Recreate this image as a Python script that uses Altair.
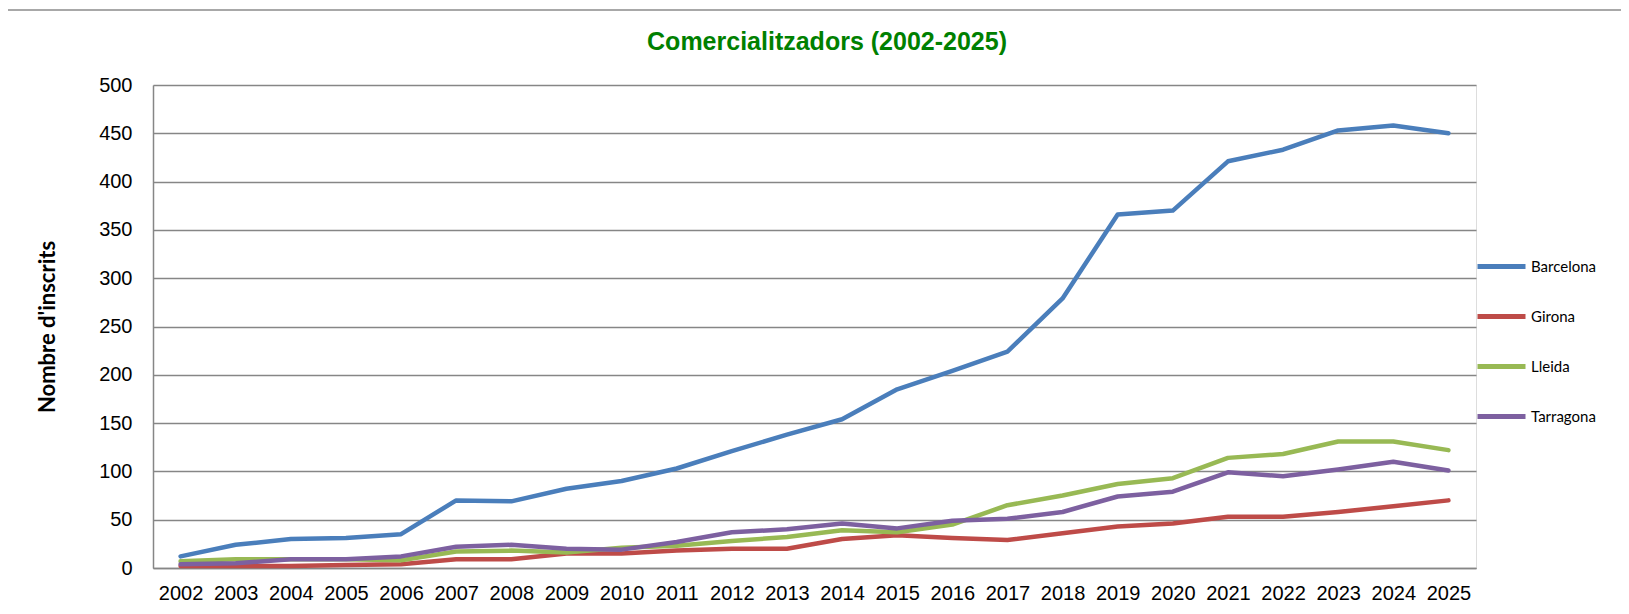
import altair as alt
import pandas as pd

years = [str(y) for y in range(2002, 2026)]
series_names = ["Barcelona", "Girona", "Lleida", "Tarragona"]
barcelona = [12, 24, 30, 31, 35, 70, 69, 82, 90, 103, 121, 138, 154, 185, 204, 224, 279, 366, 370, 421, 433, 453, 458, 450]
girona = [2, 2, 2, 3, 4, 9, 9, 15, 15, 18, 20, 20, 30, 34, 31, 29, 36, 43, 46, 53, 53, 58, 64, 70]
lleida = [7, 9, 9, 9, 8, 17, 18, 16, 21, 23, 28, 32, 39, 37, 45, 65, 75, 87, 93, 114, 118, 131, 131, 122]
tarragona = [4, 5, 9, 9, 12, 22, 24, 20, 19, 27, 37, 40, 46, 41, 49, 51, 58, 74, 79, 99, 95, 102, 110, 101]
colors = ["#4A7EBB", "#BE4B48", "#98B954", "#7D60A0"]
y_ticks = list(range(0, 501, 50))
chart_title = "Comercialitzadors (2002-2025)"

rows = []
for name, vals in zip(series_names, [barcelona, girona, lleida, tarragona]):
    for yr, v in zip(years, vals):
        rows.append({"Any": yr, "Serie": name, "Valor": v})
df = pd.DataFrame(rows)

W, H = 1323, 483

lines = alt.Chart(df).mark_line(strokeWidth=4.5, strokeCap="round", strokeJoin="round").encode(
    x=alt.X("Any:O", sort=years, scale=alt.Scale(type="point", padding=0.5),
            axis=alt.Axis(title=None, labelAngle=0, ticks=False, domainColor="#868686",
                          domainWidth=1.5, labelFont="Liberation Sans", labelFontSize=20,
                          labelColor="#000000", labelPadding=15, grid=False)),
    y=alt.Y("Valor:Q", scale=alt.Scale(domain=[0, 500], nice=False),
            axis=alt.Axis(title="Nombre d'inscrits", values=y_ticks, ticks=False,
                          domainColor="#868686", domainWidth=1.5, gridColor="#868686",
                          gridWidth=1.3, labelFont="Liberation Sans", labelFontSize=20,
                          labelColor="#000000", labelPadding=21, titleFont="Lato",
                          titleFontSize=22, titleFontWeight="bold", titleColor="#000000",
                          titlePadding=39)),
    color=alt.Color("Serie:N", sort=series_names,
                    scale=alt.Scale(domain=series_names, range=colors),
                    legend=alt.Legend(title=None, orient="none", legendX=1322, legendY=155,
                                      symbolType="stroke", symbolSize=2304,
                                      symbolStrokeWidth=5, labelFont="Lato",
                                      labelFontSize=15, labelColor="#000000",
                                      labelOffset=3, rowPadding=13)),
    order=alt.Order("Serie:N"),
)

frame = alt.Chart(alt.Data(values=[{}])).mark_rect(fill=None, stroke="#8c8c8c", strokeWidth=1.5).encode(
    x=alt.value(-147), y=alt.value(-75), x2=alt.value(1700), y2=alt.value(800)
)

title = alt.Chart(alt.Data(values=[{"t": chart_title}])).mark_text(
    font="Liberation Sans", fontSize=25, fontWeight="bold", color="#008000",
    align="center", baseline="middle"
).encode(text="t:N", x=alt.value(674), y=alt.value(-43))

chart = alt.layer(frame, lines, title).properties(
    width=W, height=H,
    autosize=alt.AutoSizeParams(type="none"),
    padding={"left": 145, "top": 77, "right": 145, "bottom": 38},
).configure_view(stroke=None).configure(background="#ffffff")

chart.save("out.html", embed_options={"renderer": "svg", "actions": False})
